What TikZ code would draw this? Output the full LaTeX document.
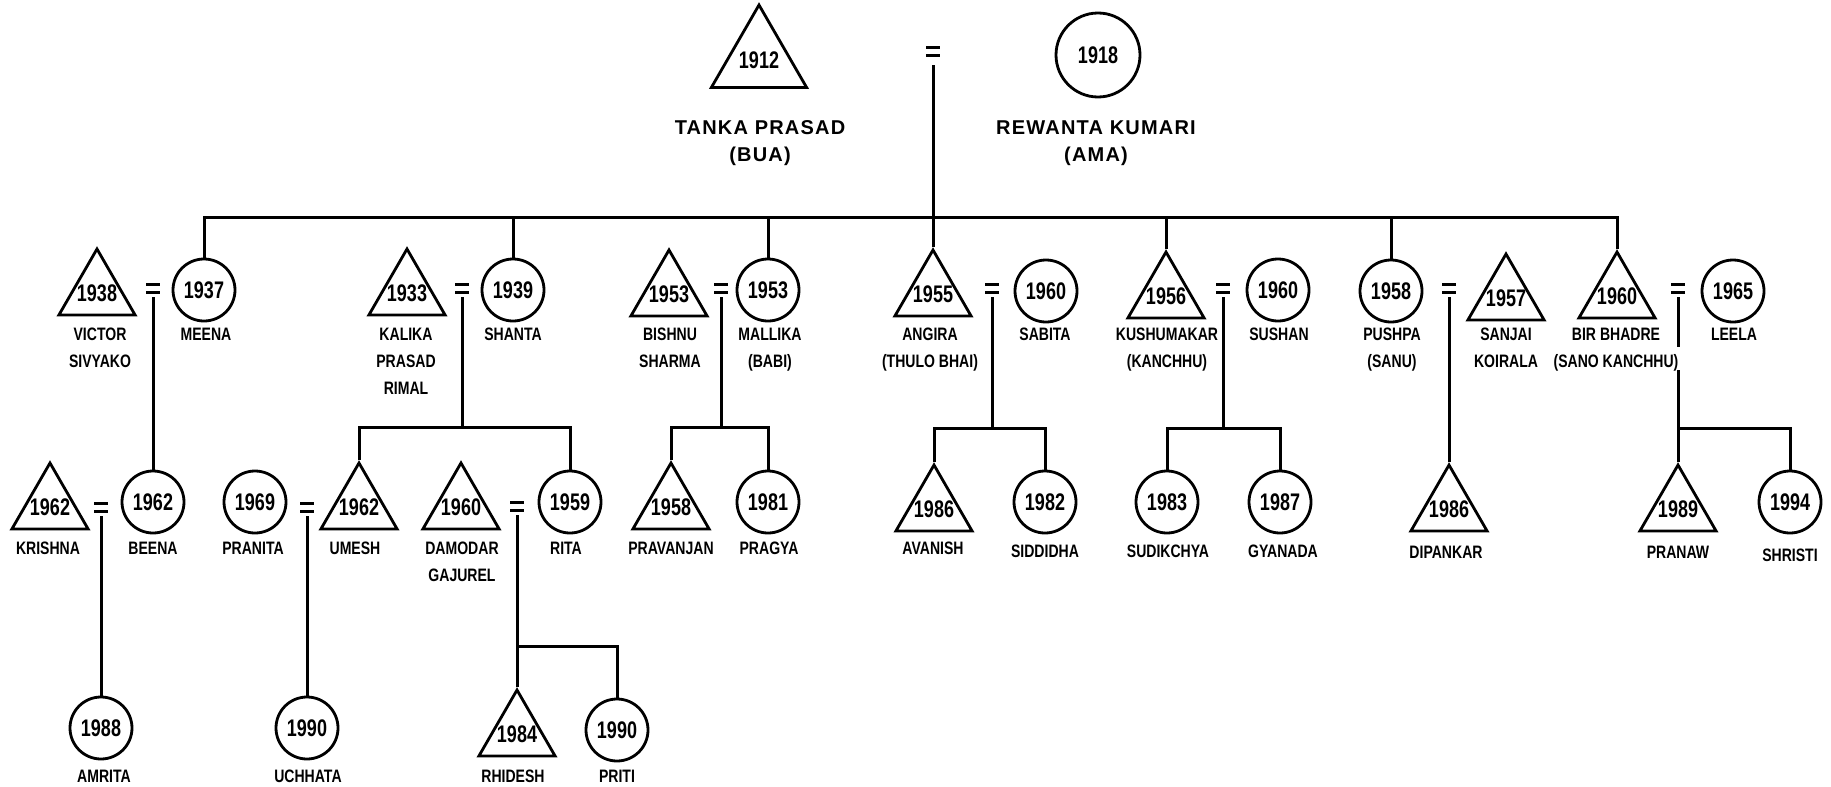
\documentclass[tikz,border=0pt]{standalone}
\usepackage{fontspec}
\setmainfont{Liberation Sans}
\newfontfamily\namefont[FakeStretch=0.78]{Liberation Sans}
\newfontfamily\yearfont[FakeStretch=0.75]{Liberation Sans}
\newfontfamily\topfont[LetterSpace=6]{Liberation Sans}
\usetikzlibrary{shapes.geometric}
\newcommand{\yr}[1]{\makebox[0pt]{#1}}

\tikzset{
  tie/.style={line width=1.5pt},
  male/.style={regular polygon, regular polygon sides=3, draw, line width=1.4pt,
    minimum size=44pt, inner sep=0pt, font=\yearfont\bfseries\fontsize{12}{12}\selectfont},
  female/.style={circle, draw, line width=1.4pt, minimum size=31pt, inner sep=0pt,
    font=\yearfont\bfseries\fontsize{12}{12}\selectfont},
  wed/.style={minimum width=7pt, minimum height=4pt, inner sep=0pt, outer sep=0pt},
  nm/.style={font=\namefont\bfseries\fontsize{9}{13.5}\selectfont, align=center,
    anchor=north, inner sep=0pt},
  toplab/.style={font=\topfont\bfseries\fontsize{10}{13.5}\selectfont, align=center,
    anchor=north, inner sep=0pt}
}

\begin{document}
\begin{tikzpicture}[x=0.5pt, y=-0.5pt]
\useasboundingbox (0,0) rectangle (1831,787);

% Tanka Prasad = Rewanta Kumari
\node[male, minimum size=55pt] (bua) at (759,60) {\yr{1912}};
\node[wed] (e0) at (933,51) {};
\node[female, minimum size=42pt] (ama) at (1098,55) {1918};
\node[toplab] (buaN) at (760,120) {TANKA PRASAD\\(BUA)};
\node[toplab] (amaN) at (1096,120) {REWANTA KUMARI\\(AMA)};

% Children
\node[male] (victor) at (97,293) {\yr{1938}};
\node[wed] (e1) at (153,288) {};
\node[female] (meena) at (204,290) {1937};
\node[male] (kalika) at (407,293) {\yr{1933}};
\node[wed] (e2) at (462,288) {};
\node[female] (shanta) at (513,290) {1939};
\node[male] (bishnu) at (669,294) {\yr{1953}};
\node[wed] (e3) at (721,288) {};
\node[female] (mallika) at (768,290) {1953};
\node[male] (angira) at (933,294) {\yr{1955}};
\node[wed] (e4) at (992,288) {};
\node[female] (sabita) at (1046,291) {1960};
\node[male] (kushumakar) at (1166,296) {\yr{1956}};
\node[wed] (e5) at (1223,288) {};
\node[female] (sushan) at (1278,290) {1960};
\node[female] (pushpa) at (1391,291) {1958};
\node[wed] (e6) at (1449,288) {};
\node[male] (sanjai) at (1506,298) {\yr{1957}};
\node[male] (birbhadre) at (1617,296) {\yr{1960}};
\node[wed] (e7) at (1678,288) {};
\node[female] (leela) at (1733,291) {1965};

\node[nm] (victorN) at (100,328) {VICTOR\\SIVYAKO};
\node[nm] (meenaN) at (206,328) {MEENA};
\node[nm] (kalikaN) at (406,328) {KALIKA\\PRASAD\\RIMAL};
\node[nm] (shantaN) at (513,328) {SHANTA};
\node[nm] (bishnuN) at (670,328) {BISHNU\\SHARMA};
\node[nm] (mallikaN) at (770,328) {MALLIKA\\(BABI)};
\node[nm] (angiraN) at (930,328) {ANGIRA\\(THULO BHAI)};
\node[nm] (sabitaN) at (1045,328) {SABITA};
\node[nm] (kushumakarN) at (1167,328) {KUSHUMAKAR\\(KANCHHU)};
\node[nm] (sushanN) at (1279,328) {SUSHAN};
\node[nm] (pushpaN) at (1392,328) {PUSHPA\\(SANU)};
\node[nm] (sanjaiN) at (1506,328) {SANJAI\\KOIRALA};
\node[nm] (birbhadreN) at (1616,328) {BIR BHADRE\\(SANO KANCHHU)};
\node[nm] (leelaN) at (1734,328) {LEELA};

% Grandchildren
\node[male] (krishna) at (50,507) {\yr{1962}};
\node[wed] (e8) at (101,507) {};
\node[female] (beena) at (153,502) {1962};
\node[female] (pranita) at (255,502) {1969};
\node[wed] (e9) at (307,507) {};
\node[male] (umesh) at (359,507) {\yr{1962}};
\node[male] (damodar) at (461,507) {\yr{1960}};
\node[wed] (e10) at (517,506) {};
\node[female] (rita) at (570,502) {1959};
\node[male] (pravanjan) at (671,507) {\yr{1958}};
\node[female] (pragya) at (768,502) {1981};
\node[male] (avanish) at (934,509) {\yr{1986}};
\node[female] (siddidha) at (1045,502) {1982};
\node[female] (sudikchya) at (1167,502) {1983};
\node[female] (gyanada) at (1280,502) {1987};
\node[male] (dipankar) at (1449,509) {\yr{1986}};
\node[male] (pranaw) at (1678,509) {\yr{1989}};
\node[female] (shristi) at (1790,502) {1994};

\node[nm] (krishnaN) at (48,542) {KRISHNA};
\node[nm] (beenaN) at (153,542) {BEENA};
\node[nm] (pranitaN) at (253,542) {PRANITA};
\node[nm] (umeshN) at (355,542) {UMESH};
\node[nm] (damodarN) at (462,542) {DAMODAR\\GAJUREL};
\node[nm] (ritaN) at (566,542) {RITA};
\node[nm] (pravanjanN) at (671,542) {PRAVANJAN};
\node[nm] (pragyaN) at (769,542) {PRAGYA};
\node[nm] (avanishN) at (933,542) {AVANISH};
\node[nm] (siddidhaN) at (1045,545) {SIDDIDHA};
\node[nm] (sudikchyaN) at (1168,545) {SUDIKCHYA};
\node[nm] (gyanadaN) at (1283,545) {GYANADA};
\node[nm] (dipankarN) at (1446,546) {DIPANKAR};
\node[nm] (pranawN) at (1678,546) {PRANAW};
\node[nm] (shristiN) at (1790,549) {SHRISTI};

% Great-grandchildren
\node[female] (amrita) at (101,728) {1988};
\node[female] (uchhata) at (307,728) {1990};
\node[male] (rhidesh) at (517,734) {\yr{1984}};
\node[female] (priti) at (617,730) {1990};

\node[nm] (amritaN) at (104,770) {AMRITA};
\node[nm] (uchhataN) at (308,770) {UCHHATA};
\node[nm] (rhideshN) at (513,770) {RHIDESH};
\node[nm] (pritiN) at (617,770) {PRITI};

% Marriage signs
\foreach \i in {0,...,10}
  \draw[tie] (e\i.north west) -- (e\i.north east) (e\i.south west) -- (e\i.south east);

% Lines of descent
\coordinate (k0) at (933,217);
\draw[tie] (e0.south) ++(0,10) -- (angira.north);
\draw[tie] (meena.north) |- (k0) -| (birbhadre.north);
\draw[tie] (shanta.north) -- (shanta |- k0);
\draw[tie] (mallika.north) -- (mallika |- k0);
\draw[tie] (kushumakar.north) -- (kushumakar |- k0);
\draw[tie] (pushpa.north) -- (pushpa |- k0);

\draw[tie] (e1.south) ++(0,5) -- (beena.north);
\coordinate (k2) at (462,427);
\draw[tie] (e2.south) ++(0,5) -- (k2);
\draw[tie] (umesh.north) |- (k2) -| (rita.north);
\coordinate (k3) at (721,427);
\draw[tie] (e3.south) ++(0,5) -- (k3);
\draw[tie] (pravanjan.north) |- (k3) -| (pragya.north);
\coordinate (k4) at (992,428);
\draw[tie] (e4.south) ++(0,5) -- (k4);
\draw[tie] (avanish.north) |- (k4) -| (siddidha.north);
\coordinate (k5) at (1223,428);
\draw[tie] (e5.south) ++(0,5) -- (k5);
\draw[tie] (sudikchya.north) |- (k5) -| (gyanada.north);
\draw[tie] (e6.south) ++(0,5) -- (dipankar.north);
\coordinate (k7) at (1678,428);
\draw[tie] (e7.south) ++(0,5) -- ++(0,50);
\draw[tie] (e7 |- 0,370) -- (pranaw.north);
\draw[tie] (k7) -| (shristi.north);

\draw[tie] (e8.south) ++(0,5) -- (amrita.north);
\draw[tie] (e9.south) ++(0,5) -- (uchhata.north);
\coordinate (k10) at (517,646);
\draw[tie] (e10.south) ++(0,5) -- (rhidesh.north);
\draw[tie] (k10) -| (priti.north);
\end{tikzpicture}
\end{document}
